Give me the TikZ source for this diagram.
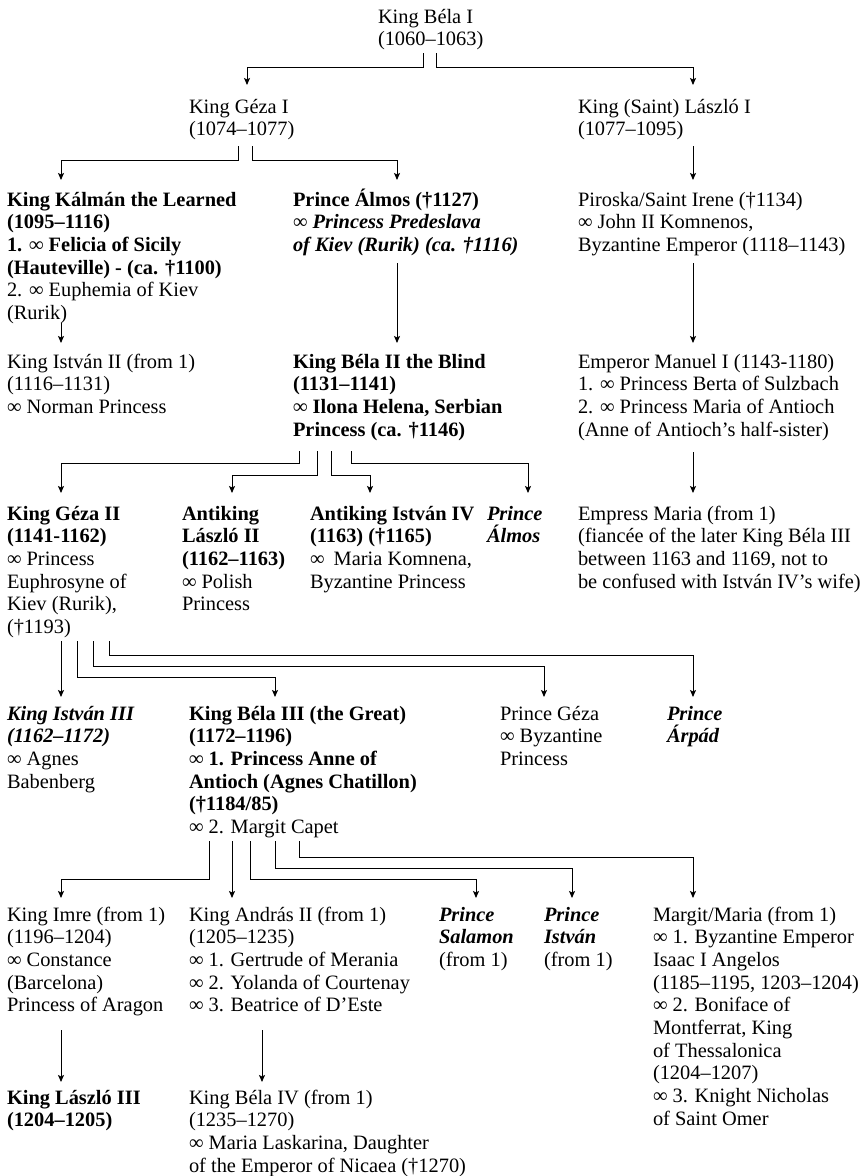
\documentclass[tikz,border=0pt]{standalone}
\usepackage{fontspec}
\setmainfont{Liberation Serif}
\usetikzlibrary{calc,arrows.meta}
\newcommand\bi{\bfseries\itshape}
\newcommand\fst{\rule{0pt}{21pt}}
\begin{document}
\begin{tikzpicture}[x=1pt,y=-1pt,
  txt/.style={inner sep=0pt, outer sep=0pt, align=left, anchor=north west, yshift=21pt,
    font=\fontsize{20.4}{22.7}\selectfont},
  arr/.style={line width=1pt, -{Stealth[length=7pt,width=6pt,inset=1.5pt]}},
  ]
\useasboundingbox (0,0) rectangle (866,1176);
% ---------- nodes (positions = left end of first baseline) ----------
\node[txt] (bela1) at (378,23) {\fst King Béla I\\(1060–1063)};
\node[txt] (geza1) at (189,113) {\fst King Géza I\\(1074–1077)};
\node[txt] (laszlo1) at (578,113) {\fst King (Saint) László I\\(1077–1095)};
\node[txt] (kalman) at (7,206) {\fst\textbf{King Kálmán the Learned}\\\textbf{(1095–1116)}\\\textbf{1. ∞ Felicia of Sicily}\\\textbf{(Hauteville) - (ca. †1100)}\\2. ∞ Euphemia of Kiev\\(Rurik)};
\node[txt] (almos) at (293,206) {\fst\textbf{Prince Álmos (†1127)}\\∞ {\bi Princess Predeslava}\\{\bi of Kiev (Rurik) (ca. †1116)}};
\node[txt] (piroska) at (578,206) {\fst Piroska/Saint Irene (†1134)\\∞ John II Komnenos,\\Byzantine Emperor (1118–1143)};
\node[txt] (istvan2) at (7,368) {\fst King István II (from 1)\\(1116–1131)\\∞ Norman Princess};
\node[txt] (bela2) at (293,368) {\fst\textbf{King Béla II the Blind}\\\textbf{(1131–1141)}\\\textbf{∞ Ilona Helena, Serbian}\\\textbf{Princess (ca. †1146)}};
\node[txt] (manuel) at (578,368) {\fst Emperor Manuel I (1143-1180)\\1. ∞ Princess Berta of Sulzbach\\2. ∞ Princess Maria of Antioch\\(Anne of Antioch’s half-sister)};
\node[txt] (geza2) at (7,520) {\fst\textbf{King Géza II}\\\textbf{(1141-1162)}\\∞ Princess\\Euphrosyne of\\Kiev (Rurik),\\(†1193)};
\node[txt] (laszlo2) at (182,520) {\fst\textbf{Antiking}\\\textbf{László II}\\\textbf{(1162–1163)}\\∞ Polish\\Princess};
\node[txt] (istvan4) at (310,520) {\fst\textbf{Antiking István IV}\\\textbf{(1163) (†1165)}\\∞\hspace{0.45em}Maria Komnena,\\Byzantine Princess};
\node[txt] (almos2) at (487,520) {\fst{\bi Prince}\\{\bi Álmos}};
\node[txt] (maria) at (578,520) {\fst Empress Maria (from 1)\\(fiancée of the later King Béla III\\between 1163 and 1169, not to\\be confused with István IV’s wife)};
\node[txt] (istvan3) at (7,720) {\fst{\bi King István III}\\{\bi (1162–1172)}\\∞ Agnes\\Babenberg};
\node[txt] (bela3) at (189,720) {\fst\textbf{King Béla III (the Great)}\\\textbf{(1172–1196)}\\\textbf{∞ 1. Princess Anne of}\\\textbf{Antioch (Agnes Chatillon)}\\\textbf{(†1184/85)}\\∞ 2. Margit Capet};
\node[txt] (gezap) at (500,720) {\fst Prince Géza\\∞ Byzantine\\Princess};
\node[txt] (arpad) at (667,720) {\fst{\bi Prince}\\{\bi Árpád}};
\node[txt] (imre) at (7,921) {\fst King Imre (from 1)\\(1196–1204)\\∞ Constance\\(Barcelona)\\Princess of Aragon};
\node[txt] (andras) at (189,921) {\fst King András II (from 1)\\(1205–1235)\\∞ 1. Gertrude of Merania\\∞ 2. Yolanda of Courtenay\\∞ 3. Beatrice of D’Este};
\node[txt] (salamon) at (439,921) {\fst{\bi Prince}\\{\bi Salamon}\\(from 1)};
\node[txt] (istvanp) at (544,921) {\fst{\bi Prince}\\{\bi István}\\(from 1)};
\node[txt] (margit) at (653,921) {\fst Margit/Maria (from 1)\\∞ 1. Byzantine Emperor\\Isaac I Angelos\\(1185–1195, 1203–1204)\\∞ 2. Boniface of\\Montferrat, King\\of Thessalonica\\(1204–1207)\\∞ 3. Knight Nicholas\\of Saint Omer};
\node[txt] (laszlo3) at (7,1104) {\fst\textbf{King László III}\\\textbf{(1204–1205)}};
\node[txt] (bela4) at (189,1104) {\fst King Béla IV (from 1)\\(1235–1270)\\∞ Maria Laskarina, Daughter\\of the Emperor of Nicaea (†1270)};
% ---------- connectors ----------
\draw[arr] ($(bela1.north west)+(45,51)$) |- ($(geza1.north west)+(58,-25)$) -- ($(geza1.north west)+(58,-7)$);
\draw[arr] ($(bela1.north west)+(58,51)$) |- ($(laszlo1.north west)+(115,-25)$) -- ($(laszlo1.north west)+(115,-7)$);
\draw[arr] ($(geza1.north west)+(49,54)$) |- ($(kalman.north west)+(54,-25)$) -- ($(kalman.north west)+(54,-5)$);
\draw[arr] ($(geza1.north west)+(63,54)$) |- ($(almos.north west)+(104,-25)$) -- ($(almos.north west)+(104,-5)$);
\draw[arr] ($(laszlo1.north west)+(115,54)$) -- ($(piroska.north west)+(115,-5)$);
\draw[arr] ($(kalman.north west)+(54,138)$) -- ($(istvan2.north west)+(54,-4)$);
\draw[arr] ($(almos.north west)+(104,78)$) -- ($(bela2.north west)+(104,-4)$);
\draw[arr] ($(piroska.north west)+(115,78)$) -- ($(manuel.north west)+(115,-4)$);
\draw[arr] ($(bela2.north west)+(6,104)$) |- ($(geza2.north west)+(54,-36)$) -- ($(geza2.north west)+(54,-6)$);
\draw[arr] ($(bela2.north west)+(24,104)$) |- ($(laszlo2.north west)+(50,-24)$) -- ($(laszlo2.north west)+(50,-6)$);
\draw[arr] ($(bela2.north west)+(38,104)$) |- ($(istvan4.north west)+(60,-24)$) -- ($(istvan4.north west)+(60,-6)$);
\draw[arr] ($(bela2.north west)+(58,104)$) |- ($(almos2.north west)+(41,-36)$) -- ($(almos2.north west)+(41,-6)$);
\draw[arr] ($(manuel.north west)+(115,105)$) -- ($(maria.north west)+(115,-6)$);
\draw[arr] ($(geza2.north west)+(54,142)$) -- ($(istvan3.north west)+(54,-2)$);
\draw[arr] ($(geza2.north west)+(70,142)$) |- ($(bela3.north west)+(86,-22)$) -- ($(bela3.north west)+(86,-2)$);
\draw[arr] ($(geza2.north west)+(86,142)$) |- ($(gezap.north west)+(44,-33)$) -- ($(gezap.north west)+(44,-2)$);
\draw[arr] ($(geza2.north west)+(102,142)$) |- ($(arpad.north west)+(26,-44)$) -- ($(arpad.north west)+(26,-2)$);
\draw[arr] ($(bela3.north west)+(20,142)$) |- ($(imre.north west)+(54,-21)$) -- ($(imre.north west)+(54,-2)$);
\draw[arr] ($(bela3.north west)+(43,142)$) -- ($(andras.north west)+(43,-2)$);
\draw[arr] ($(bela3.north west)+(61,142)$) |- ($(salamon.north west)+(37,-21)$) -- ($(salamon.north west)+(37,-2)$);
\draw[arr] ($(bela3.north west)+(86,142)$) |- ($(istvanp.north west)+(28,-32)$) -- ($(istvanp.north west)+(28,-2)$);
\draw[arr] ($(bela3.north west)+(110,142)$) |- ($(margit.north west)+(40,-43)$) -- ($(margit.north west)+(40,-2)$);
\draw[arr] ($(imre.north west)+(54,130)$) -- ($(laszlo3.north west)+(54,-1)$);
\draw[arr] ($(andras.north west)+(73,130)$) -- ($(bela4.north west)+(73,-1)$);
\end{tikzpicture}
\end{document}
